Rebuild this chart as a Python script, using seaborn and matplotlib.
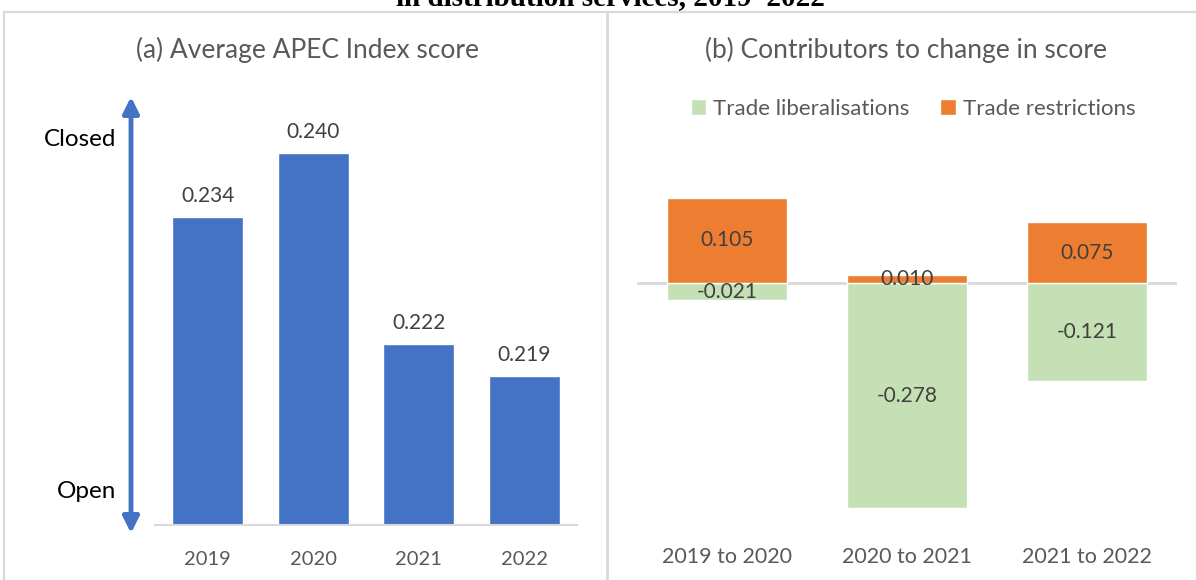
import numpy as np
import pandas as pd
import matplotlib
matplotlib.use("Agg")
import matplotlib.pyplot as plt
import seaborn as sns
from matplotlib.patches import Rectangle, FancyArrowPatch
from matplotlib.lines import Line2D

# Data
years = ["2019", "2020", "2021", "2022"]
index_score = [0.234, 0.240, 0.222, 0.219]

periods = ["2019 to 2020", "2020 to 2021", "2021 to 2022"]
liberalisations = [-0.021, -0.278, -0.121]
restrictions = [0.105, 0.010, 0.075]

blue = "#4472C4"
green = "#C5E0B4"
orange = "#ED7D31"
grey_txt = "#595959"
frame = "#D9D9D9"

sns.set_theme(style="white")
plt.rcParams["font.family"] = ["Lato", "DejaVu Sans"]

fig = plt.figure(figsize=(11.96, 5.8), dpi=100)
W, H = 1196, 580

def box(x0, y0, x1, y1):
    return [x0 / W, 1 - y1 / H, (x1 - x0) / W, (y1 - y0) / H]

# outer frame and divider
fig.add_artist(Rectangle((4 / W, -0.01), (W - 3) / W, 1 - 12 / H + 0.01,
                         transform=fig.transFigure, fill=False,
                         edgecolor=frame, linewidth=1.6))
fig.add_artist(Line2D([607 / W, 607 / W], [0, 1 - 12 / H],
                      transform=fig.transFigure, color=frame, linewidth=2))

# cut-off title at the very top
fig.text(610 / W, 1 - 5 / H, "in distribution services, 2019–2022",
         ha="center", va="baseline", fontsize=21, fontweight="bold",
         family=["Liberation Serif", "DejaVu Serif"], color="black")

# ---- panel (a)
ax1 = fig.add_axes(box(155, 100, 577, 525))
df_a = pd.DataFrame({"year": years, "score": index_score})
sns.barplot(data=df_a, x="year", y="score", color=blue, saturation=1,
            width=0.67, ax=ax1)
ax1.set_ylim(0.205, 0.245)
ax1.set_xlim(-0.5, 3.5)
for c in ax1.containers:
    ax1.bar_label(c, fmt="%.3f", padding=8, fontsize=15, color="#404040")
ax1.set_xlabel("")
ax1.set_ylabel("")
ax1.set_yticks([])
ax1.tick_params(axis="x", length=0, labelsize=14.5, labelcolor=grey_txt, pad=19)
for s in ["top", "right", "left"]:
    ax1.spines[s].set_visible(False)
ax1.spines["bottom"].set_color(frame)
ax1.spines["bottom"].set_linewidth(1.5)

fig.text(307 / W, 1 - 50 / H, "(a) Average APEC Index score", ha="center",
         va="center", fontsize=19, color=grey_txt)

# open/closed arrow
fig.add_artist(FancyArrowPatch((131 / W, 1 - 536 / H), (131 / W, 1 - 94 / H),
                               transform=fig.transFigure, arrowstyle="<|-|>",
                               mutation_scale=24, color=blue, linewidth=3.5))
fig.text(80 / W, 1 - 139 / H, "Closed", ha="center", va="center",
         fontsize=17.5, color="black")
fig.text(87 / W, 1 - 491 / H, "Open", ha="center", va="center",
         fontsize=17.5, color="black")

# ---- panel (b)
ax2 = fig.add_axes(box(637, 161.5, 1177, 526))
df_b = pd.DataFrame({"period": periods, "lib": liberalisations,
                     "res": restrictions})
sns.barplot(data=df_b, x="period", y="lib", color=green, saturation=1,
            width=0.67, ax=ax2, label="Trade liberalisations")
sns.barplot(data=df_b, x="period", y="res", color=orange, saturation=1,
            width=0.67, ax=ax2, label="Trade restrictions")
ax2.set_ylim(-0.3, 0.15)
ax2.set_xlim(-0.5, 2.5)
ax2.axhline(0, color=frame, linewidth=2, zorder=0.5)
for c in ax2.containers:
    ax2.bar_label(c, fmt="%.3f", label_type="center", fontsize=15,
                  color="#404040")
ax2.set_xlabel("")
ax2.set_ylabel("")
ax2.set_yticks([])
ax2.tick_params(axis="x", length=0, labelsize=15.5, labelcolor=grey_txt, pad=15)
for s in ["top", "right", "left", "bottom"]:
    ax2.spines[s].set_visible(False)

leg = ax2.legend(loc="center", bbox_to_anchor=(913 / W, 1 - 109 / H),
                 bbox_transform=fig.transFigure, ncol=2, frameon=False,
                 fontsize=16, handlelength=0.7, handleheight=0.7,
                 handletextpad=0.3, columnspacing=1.4)
for t in leg.get_texts():
    t.set_color(grey_txt)

fig.text(906 / W, 1 - 50 / H, "(b) Contributors to change in score",
         ha="center", va="center", fontsize=19, color=grey_txt)

fig.savefig("out.png", dpi=100)
